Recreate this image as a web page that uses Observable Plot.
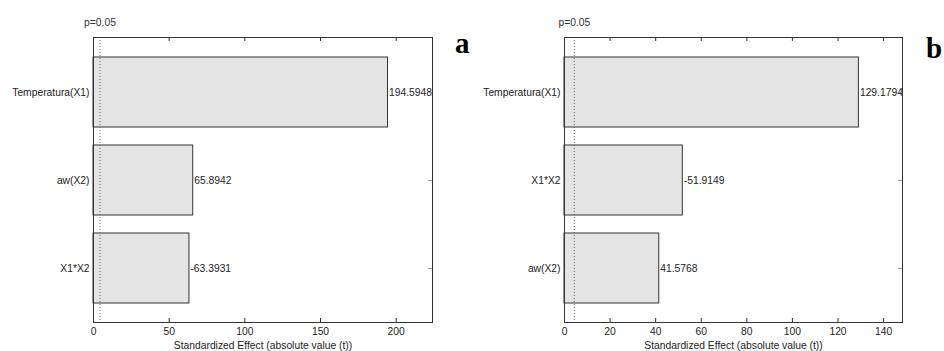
<!DOCTYPE html>
<html>
<head>
<meta charset="utf-8">
<script src="https://cdn.jsdelivr.net/npm/d3@7"></script>
<script src="https://cdn.jsdelivr.net/npm/@observablehq/plot@0.6"></script>
<style>
  html, body { margin: 0; padding: 0; background: #fff; }
  #wrap { position: relative; width: 944px; height: 351px; overflow: hidden; }
  .panel { position: absolute; top: 0; }
  .tag { position: absolute; font-family: "Liberation Serif", "DejaVu Serif", serif; font-weight: bold; font-size: 29px; line-height: 1; color: #000; }
</style>
</head>
<body>
<div id="wrap"></div>
<script>
// Panel a
const namesA = ["Temperatura(X1)", "aw(X2)", "X1*X2"];
const effectsA = [194.5948, 65.8942, -63.3931];
const xMaxA = 224;
const ticksA = [0, 50, 100, 150, 200];
// Panel b
const namesB = ["Temperatura(X1)", "X1*X2", "aw(X2)"];
const effectsB = [129.1794, -51.9149, 41.5768];
const xMaxB = 148.3;
const ticksB = [0, 20, 40, 60, 80, 100, 120, 140];
// critical t value (p = 0.05)
const tCrit = 4.303;
const pLabel = "p=0.05";
const xLabel = "Standardized Effect (absolute value (t))";
const panelTags = ["a", "b"];

const H = 351, MT = 37, MB = 29, TICK = 4;

function panel(names, effects, xMax, ticks, width, ml, mr) {
  const data = names.map((n, i) => ({name: n, effect: effects[i], t: Math.abs(effects[i])}));
  const ink = "#333";
  const inner = H - MT - MB;
  return Plot.plot({
    width, height: H,
    marginLeft: ml, marginRight: mr, marginTop: MT, marginBottom: MB,
    style: {fontFamily: "Liberation Sans, Arial, sans-serif", fontSize: "10.3px", color: "#222", background: "#fff", overflow: "visible"},
    x: {domain: [0, xMax], ticks},
    y: {domain: names, padding: 0.21},
    marks: [
      Plot.barX(data, {x: "t", y: "name", fill: "#e4e4e4", stroke: ink, strokeWidth: 1}),
      Plot.ruleX([tCrit], {stroke: "#666", strokeDasharray: "1,2"}),
      Plot.tickX(ticks, {x: d => d, stroke: ink, insetTop: inner - TICK}),
      Plot.tickX(ticks, {x: d => d, stroke: ink, insetBottom: inner - TICK}),
      Plot.text(data, {x: "t", y: "name", text: d => d.effect.toFixed(4), textAnchor: "start", dx: 1, fill: "#222"}),
      Plot.text([tCrit], {x: d => d, text: () => pLabel, frameAnchor: "top", dy: -19, fill: "#333"}),
      Plot.axisX({anchor: "bottom", ticks, tickSize: 0, tickPadding: 5, label: xLabel, labelAnchor: "center", labelOffset: 26, labelArrow: "none", fill: "#222"}),
      Plot.axisY({anchor: "left", tickSize: 0, tickPadding: 4, label: null, fill: "#222"}),
      Plot.axisY({anchor: "right", tickSize: -5, stroke: "#999", tickFormat: () => "", label: null}),
      Plot.frame({stroke: ink, strokeWidth: 1})
    ]
  });
}

const wrap = document.getElementById("wrap");
const a = panel(namesA, effectsA, xMaxA, ticksA, 470, 93, 38);
a.classList.add("panel"); a.style.left = "0px";
wrap.appendChild(a);
const b = panel(namesB, effectsB, xMaxB, ticksB, 474, 94, 42);
b.classList.add("panel"); b.style.left = "470px";
wrap.appendChild(b);

const tagA = document.createElement("div");
tagA.className = "tag"; tagA.textContent = panelTags[0];
tagA.style.left = "455px"; tagA.style.top = "29px";
wrap.appendChild(tagA);
const tagB = document.createElement("div");
tagB.className = "tag"; tagB.textContent = panelTags[1];
tagB.style.left = "926px"; tagB.style.top = "34px";
wrap.appendChild(tagB);
</script>
</body>
</html>
